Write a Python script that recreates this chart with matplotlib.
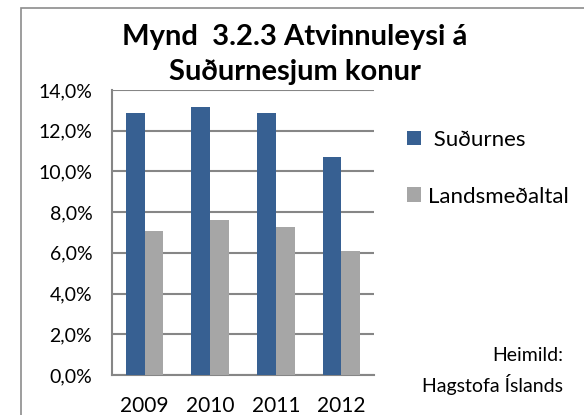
import numpy as np
import matplotlib
matplotlib.use('Agg')
import matplotlib.pyplot as plt
from matplotlib.patches import Rectangle

# data
years = ['2009', '2010', '2011', '2012']
sudurnes = [12.86, 13.18, 12.89, 10.70]
landsmedaltal = [7.09, 7.60, 7.29, 6.09]
yticks = [0, 2, 4, 6, 8, 10, 12, 14]

plt.rcParams['font.family'] = ['Lato', 'DejaVu Sans']

W, H = 584, 415
fig = plt.figure(figsize=(W / 100, H / 100), dpi=100)

# outer chart frame (cut off at right and bottom)
fig.patches.append(Rectangle((21 / W, -0.1), 1.2, 1 - 8 / H + 0.1,
                             transform=fig.transFigure, fill=False,
                             edgecolor='#8c8c8c', linewidth=1.2))

ax = fig.add_axes([111.7 / W, 1 - 375 / H, 262.6 / W, 285 / H])
x = np.arange(len(years))
bw = 0.285
ax.bar(x - bw / 2, sudurnes, bw, color='#376092', label=' Suðurnes', zorder=3)
ax.bar(x + bw / 2, landsmedaltal, bw, color='#a6a6a6', label='Landsmeðaltal', zorder=3)

ax.set_xlim(-0.5, 3.5)
ax.set_ylim(0, 14)
ax.set_yticks(yticks)
ax.set_yticklabels(['%d,0%%' % v for v in yticks])
ax.set_xticks(x)
ax.set_xticklabels(years)
ax.yaxis.grid(True, color='#868686', linewidth=1.5, zorder=0)
for s in ['top', 'right']:
    ax.spines[s].set_visible(False)
for s in ['left', 'bottom']:
    ax.spines[s].set_color('#868686')
    ax.spines[s].set_linewidth(1.5)
ax.tick_params(axis='y', length=0, pad=14, labelsize=14)
ax.tick_params(axis='x', length=0, pad=15, labelsize=15)

fig.text(0.505, 1 - 37 / H, 'Mynd  3.2.3 Atvinnuleysi á', ha='center', va='center',
         fontsize=21, fontweight='bold')
fig.text(0.505, 1 - 72 / H, 'Suðurnesjum konur', ha='center', va='center',
         fontsize=21, fontweight='bold')

ax.legend(loc='upper left', bbox_to_anchor=(398 / W, 1 - 121 / H), bbox_transform=fig.transFigure,
          frameon=False, fontsize=16, handlelength=0.65, handleheight=0.65, handletextpad=0.3,
          labelspacing=1.65, borderaxespad=0)

fig.text(563 / W, 1 - 355 / H, 'Heimild:', ha='right', va='center', fontsize=14)
fig.text(563 / W, 1 - 384 / H, 'Hagstofa Íslands', ha='right', va='center', fontsize=14)

fig.savefig('out.png', dpi=100)
